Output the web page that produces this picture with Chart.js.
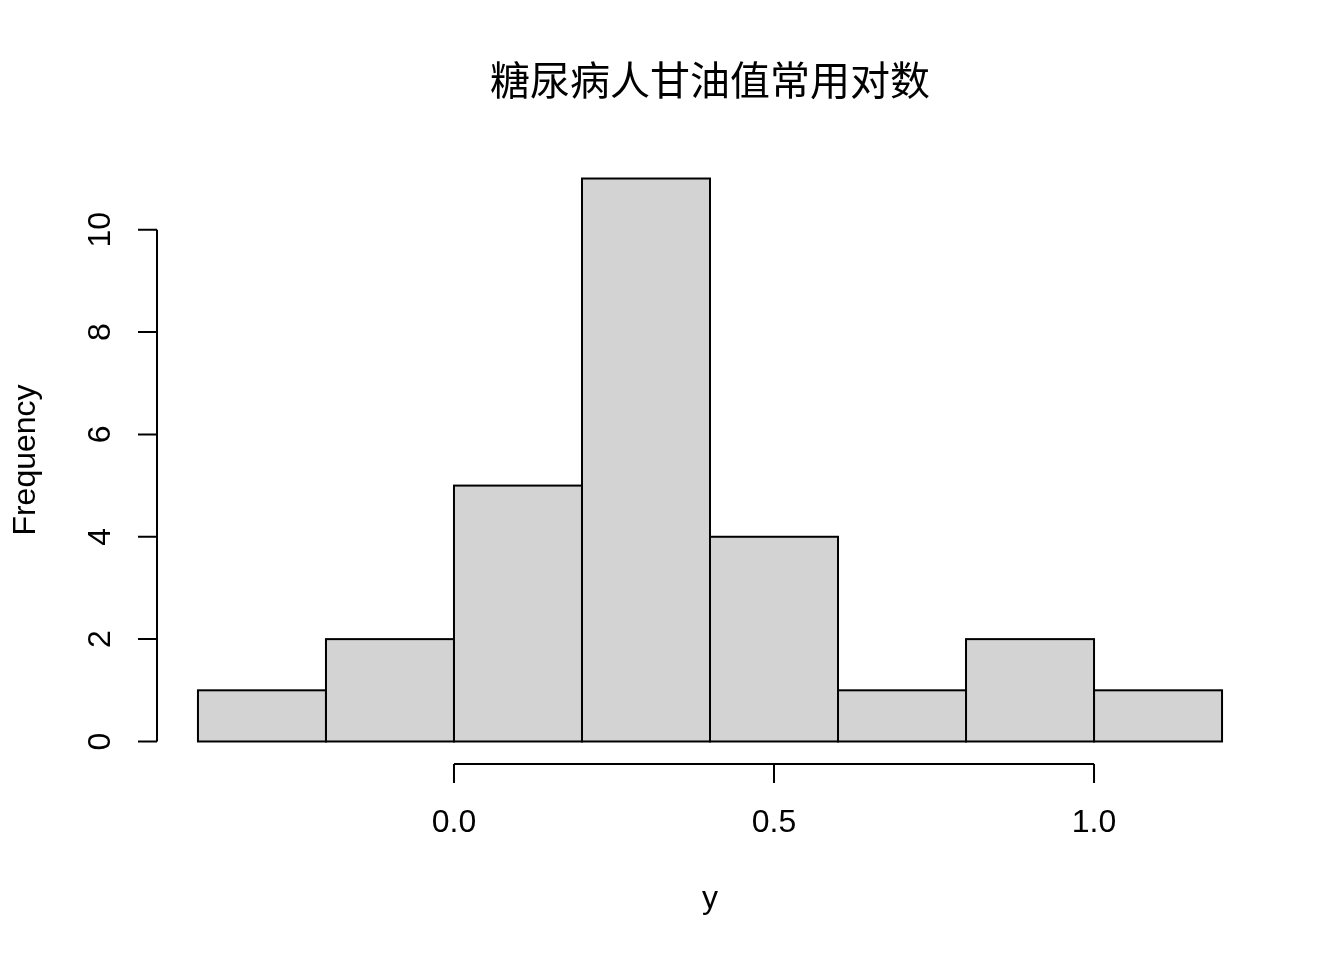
<!DOCTYPE html>
<html>
<head>
<meta charset="utf-8">
<script src="https://cdn.jsdelivr.net/npm/chart.js@4"></script>
<style>
  html, body { margin: 0; padding: 0; background: #fff; }
  #wrap { width: 1344px; height: 960px; }
</style>
</head>
<body>
<div id="wrap"><canvas id="hist" width="1344" height="960"></canvas></div>
<script>
// --- histogram data (bins of width 0.2) ---
const binStarts = [-0.4, -0.2, 0.0, 0.2, 0.4, 0.6, 0.8, 1.0];
const binWidth = 0.2;
const counts = [1, 2, 5, 11, 4, 1, 2, 1];

// --- axis ticks ---
const xTicks = [0.0, 0.5, 1.0];
const xTickLabels = ["0.0", "0.5", "1.0"];
const yTicks = [0, 2, 4, 6, 8, 10];

const titleText = "糖尿病人甘油值常用对数";
const xTitle = "y";
const yTitle = "Frequency";

const points = binStarts.map((s, i) => ({ x: s + binWidth / 2, y: counts[i] }));

// R-style axes, labels and bar outlines
const rAxes = {
  id: "rAxes",
  afterDatasetsDraw(chart) {
    const ctx = chart.ctx;
    const xs = chart.scales.x;
    const ys = chart.scales.y;
    const area = chart.chartArea;

    ctx.save();
    ctx.strokeStyle = "#000";
    ctx.lineWidth = 2;

    // bar outlines
    chart.getDatasetMeta(0).data.forEach((bar) => {
      const p = bar.getProps(["x", "y", "base", "width"], true);
      ctx.strokeRect(p.x - p.width / 2, p.y, p.width, p.base - p.y);
    });

    // y axis
    const yx = area.left;
    ctx.beginPath();
    ctx.moveTo(yx, ys.getPixelForValue(yTicks[0]));
    ctx.lineTo(yx, ys.getPixelForValue(yTicks[yTicks.length - 1]));
    yTicks.forEach((t) => {
      const py = ys.getPixelForValue(t);
      ctx.moveTo(yx, py);
      ctx.lineTo(yx - 19, py);
    });
    // x axis
    const xy = area.bottom;
    ctx.moveTo(xs.getPixelForValue(xTicks[0]), xy);
    ctx.lineTo(xs.getPixelForValue(xTicks[xTicks.length - 1]), xy);
    xTicks.forEach((t) => {
      const px = xs.getPixelForValue(t);
      ctx.moveTo(px, xy);
      ctx.lineTo(px, xy + 19);
    });
    ctx.stroke();

    ctx.fillStyle = "#000";
    ctx.font = "32px 'Liberation Sans', Arial, sans-serif";
    ctx.textAlign = "center";
    ctx.textBaseline = "middle";

    xTicks.forEach((t, i) => {
      ctx.fillText(xTickLabels[i], xs.getPixelForValue(t), 823);
    });
    yTicks.forEach((t) => {
      ctx.save();
      ctx.translate(101, ys.getPixelForValue(t));
      ctx.rotate(-Math.PI / 2);
      ctx.fillText(String(t), 0, 0);
      ctx.restore();
    });

    const midX = (area.left + area.right) / 2;
    const midY = (area.top + area.bottom) / 2;
    ctx.fillText(xTitle, midX, 899);
    ctx.save();
    ctx.translate(26, midY);
    ctx.rotate(-Math.PI / 2);
    ctx.fillText(yTitle, 0, 0);
    ctx.restore();

    ctx.font = "40px 'Noto Sans CJK SC', sans-serif";
    ctx.fillText(titleText, midX, 80);
    ctx.restore();
  }
};

new Chart(document.getElementById("hist").getContext("2d"), {
  type: "bar",
  data: {
    datasets: [{
      data: points,
      backgroundColor: "#d3d3d3",
      borderWidth: 0,
      barPercentage: 1,
      categoryPercentage: 1,
      inflateAmount: 0
    }]
  },
  options: {
    responsive: false,
    animation: false,
    devicePixelRatio: 1,
    layout: { padding: { left: 157, right: 81, top: 156, bottom: 196 } },
    plugins: { legend: { display: false }, tooltip: { enabled: false } },
    scales: {
      x: { type: "linear", min: -0.464, max: 1.264, offset: false, display: false },
      y: { type: "linear", min: -0.44, max: 11.44, display: false }
    }
  },
  plugins: [rAxes]
});
</script>
</body>
</html>
